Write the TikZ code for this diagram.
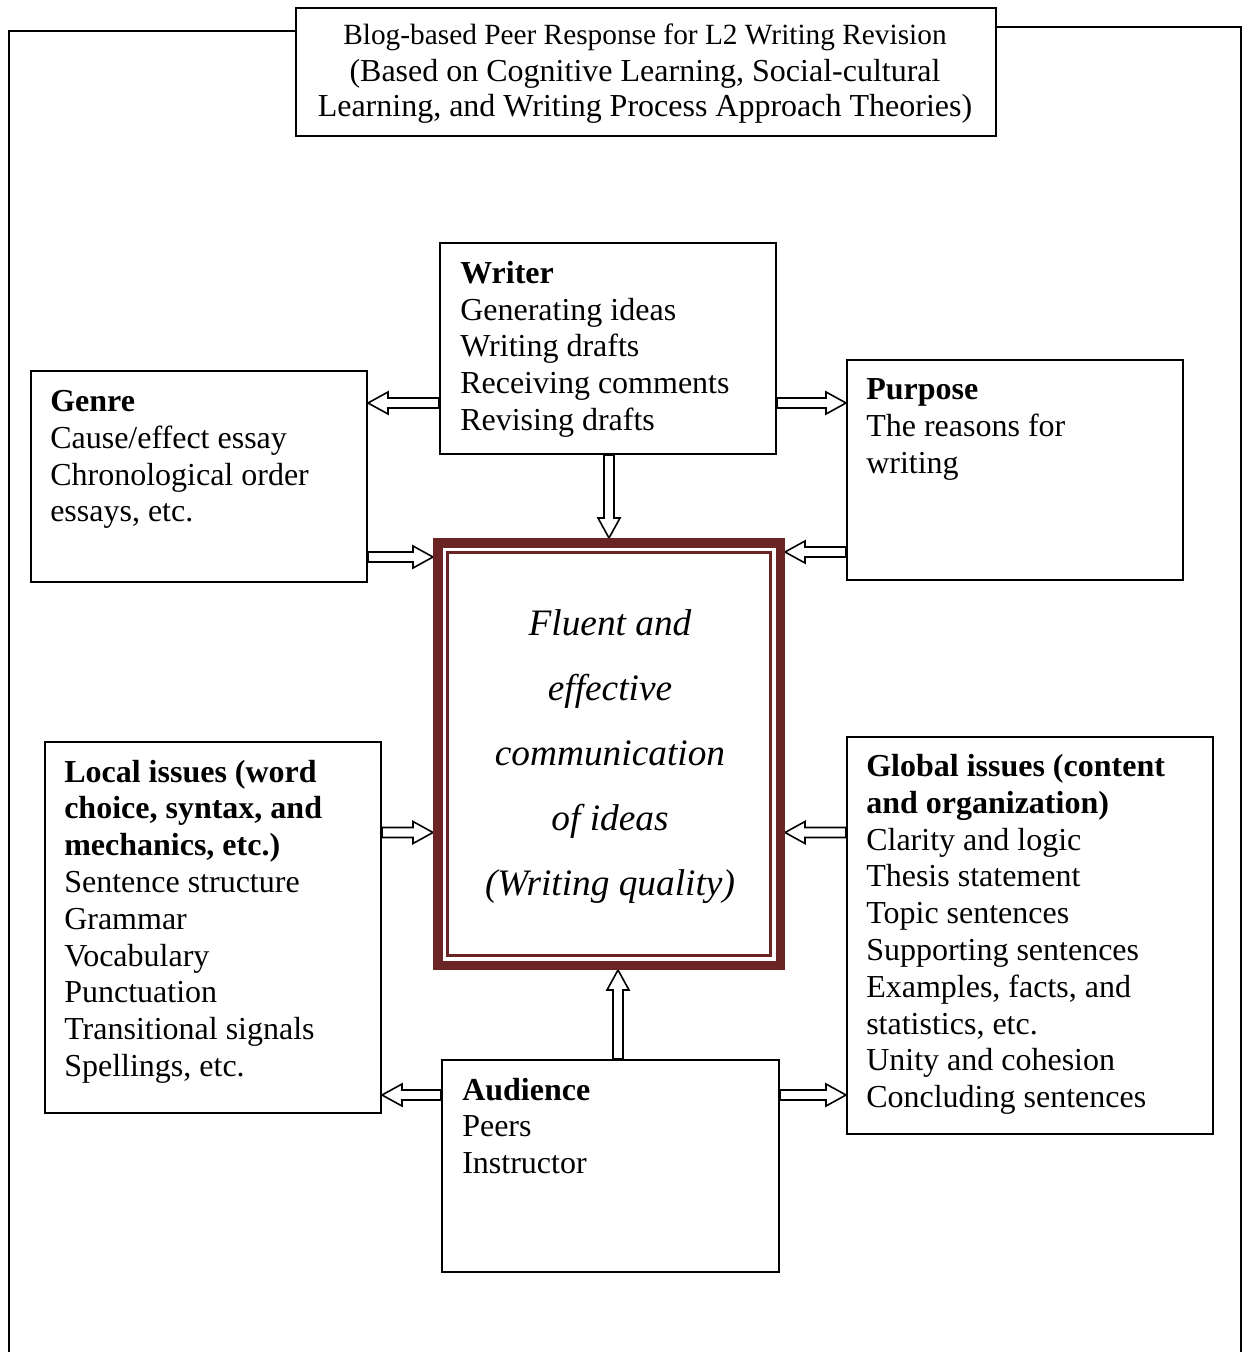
\documentclass[tikz,border=0pt]{standalone}
\usepackage{fontspec}
\setmainfont{Liberation Serif}
\usetikzlibrary{calc}
\definecolor{framered}{RGB}{107,36,36}
% geometry of the hollow block arrows
\newcommand{\arrShaft}{3.75pt}
\newcommand{\arrHead}{8.25pt}
\newcommand{\arrLen}{15pt}
\tikzset{
  box/.style={draw, line width=1.5pt, inner sep=0pt, anchor=north west},
  txt/.style={anchor=north west, inner sep=0pt, align=left,
              font=\fontsize{24}{27.6}\selectfont},
  blockarrow/.style={draw, line width=1.2pt, line join=miter, to path={
       ($(\tikztostart)!\arrShaft!90:(\tikztotarget)$)
    -- ($($(\tikztotarget)!\arrLen!(\tikztostart)$)!\arrShaft!-90:(\tikztostart)$)
    -- ($($(\tikztotarget)!\arrLen!(\tikztostart)$)!\arrHead!-90:(\tikztostart)$)
    -- (\tikztotarget)
    -- ($($(\tikztotarget)!\arrLen!(\tikztostart)$)!\arrHead!90:(\tikztostart)$)
    -- ($($(\tikztotarget)!\arrLen!(\tikztostart)$)!\arrShaft!90:(\tikztostart)$)
    -- ($(\tikztostart)!\arrShaft!-90:(\tikztotarget)$)
    -- cycle}},
}
\begin{document}
\begin{tikzpicture}[x=0.75pt, y=-0.75pt]
\useasboundingbox (0,0) rectangle (1244,1352);

% title box
\node[box, minimum width=525pt, minimum height=96pt] (title) at (295,7) {};
\node[anchor=north, inner sep=0pt, align=center,
      font=\fontsize{24}{26.25}\selectfont] (titletext) at (645,20)
  {{\fontsize{22}{26}\selectfont\strut Blog-based Peer Response for L2 Writing Revision}\\[1.3pt]
   (Based on Cognitive Learning, Social-cultural\\
   Learning, and Writing Process Approach Theories)};

% outer frame joining the title box
\coordinate (frameTL) at (9,31);
\coordinate (frameBL) at (9,1352);
\coordinate (frameTR) at (1241,27);
\coordinate (frameBR) at (1241,1352);
\draw[line width=1.5pt] (frameBL) -- (frameTL) -- (frameTL -| title.west);
\draw[line width=1.5pt] (title.east |- frameTR) -- (frameTR) -- (frameBR);

% component boxes
\node[box, minimum width=252pt, minimum height=158.25pt] (writer) at (439,242) {};
\node[box, minimum width=252pt, minimum height=158.25pt] (genre) at (30,370) {};
\node[box, minimum width=252pt, minimum height=165pt] (purpose) at (846,359) {};
\node[box, minimum width=252pt, minimum height=278.25pt] (local) at (44,741) {};
\node[box, minimum width=274.5pt, minimum height=297.75pt] (global) at (846,736) {};
\node[box, minimum width=252.75pt, minimum height=159pt] (audience) at (441,1059) {};

% box texts
\node[txt] (writertext) at (460,257.2)
  {\strut\textbf{Writer}\\Generating ideas\\Writing drafts\\Receiving comments\\Revising drafts};
\node[txt] (genretext) at (50,385.5)
  {\strut\textbf{Genre}\\Cause/effect essay\\Chronological order\\essays, etc.};
\node[txt] (purposetext) at (866,373.5)
  {\strut\textbf{Purpose}\\The reasons for\\writing};
\node[txt] (localtext) at (64,756)
  {\strut\textbf{Local issues (word}\\\textbf{choice, syntax, and}\\\textbf{mechanics, etc.)}\\Sentence structure\\Grammar\\Vocabulary\\Punctuation\\Transitional signals\\Spellings, etc.};
\node[txt] (globaltext) at (866,750.5)
  {\strut\textbf{Global issues (content}\\\textbf{and organization)}\\Clarity and logic\\Thesis statement\\Topic sentences\\Supporting sentences\\Examples, facts, and\\statistics, etc.\\Unity and cohesion\\Concluding sentences};
\node[txt] (audiencetext) at (462,1074)
  {\strut\textbf{Audience}\\Peers\\Instructor};

% helper rows and columns for the arrows
\coordinate (rowTop) at (0,403);
\coordinate (rowGenre) at (0,557);
\coordinate (rowPurpose) at (0,552);
\coordinate (rowIssues) at (0,832.5);
\coordinate (rowAudience) at (0,1095);
\coordinate (colWriter) at (609,0);
\coordinate (colAudience) at (618,0);

% central box outline, used for the arrow end points
\path node[minimum width=256.875pt, minimum height=316.875pt,
           inner sep=0pt, outer sep=3.5625pt] (center) at (609,754) {};

% hollow arrows
\draw[blockarrow] (writer.west |- rowTop) to (genre.east |- rowTop);
\draw[blockarrow] (writer.east |- rowTop) to (purpose.west |- rowTop);
\draw[blockarrow] (writer.south -| colWriter) to (center.north -| colWriter);
\draw[blockarrow] (genre.east |- rowGenre) to (center.west |- rowGenre);
\draw[blockarrow] (purpose.west |- rowPurpose) to (center.east |- rowPurpose);
\draw[blockarrow] (local.east |- rowIssues) to (center.west |- rowIssues);
\draw[blockarrow] (global.west |- rowIssues) to (center.east |- rowIssues);
\draw[blockarrow] (audience.north -| colAudience) to (center.south -| colAudience);
\draw[blockarrow] (audience.west |- rowAudience) to (local.east |- rowAudience);
\draw[blockarrow] (audience.east |- rowAudience) to (global.west |- rowAudience);

% central box border and inner rule
\node[draw=framered, line width=7.125pt, minimum width=256.875pt,
      minimum height=316.875pt, inner sep=0pt] (centerframe) at (center) {};
\draw[framered, line width=1.6pt]
  ($(centerframe.north west)+(14.5,14.5)$) rectangle ($(centerframe.south east)+(-14.5,-14.5)$);
\node[anchor=north, inner sep=0pt, align=center,
      font=\fontsize{28}{48.75}\selectfont\itshape] (centertext) at (610,589.5)
  {\strut Fluent and\\effective\\communication\\of ideas\\(Writing quality)};
\end{tikzpicture}
\end{document}
